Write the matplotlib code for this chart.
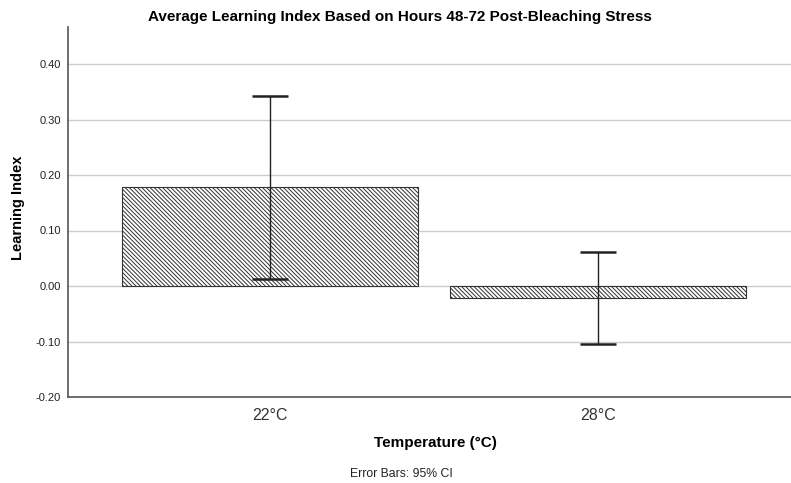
import matplotlib
matplotlib.use("Agg")
import matplotlib.pyplot as plt
import numpy as np

categories = ["22°C", "28°C"]
means = [0.178, -0.0216]
ci_low = [0.0126, -0.1045]
ci_high = [0.342, 0.061]
yticks = [-0.20, -0.10, 0.00, 0.10, 0.20, 0.30, 0.40]

plt.rcParams['font.family'] = ['Liberation Sans', 'DejaVu Sans']
plt.rcParams['hatch.linewidth'] = 0.7
plt.rcParams['hatch.color'] = '#555555'

fig = plt.figure(figsize=(7.91, 4.83), dpi=100)
ax = fig.add_axes([68/791, 86/483, 1 - 68/791, (397-27)/483])

x = np.arange(len(categories))
ax.set_axisbelow(True)
for t in yticks:
    ax.axhline(t, color='#cccccc', lw=1.0, zorder=0)
ax.bar(x, means, width=0.9, facecolor='white', edgecolor='#333333',
       hatch='\\' * 8, linewidth=0.8, zorder=2)
yerr = [np.array(means) - np.array(ci_low), np.array(ci_high) - np.array(means)]
ax.errorbar(x, means, yerr=yerr, fmt='none', ecolor='#222222', elinewidth=1.0,
            capsize=13, capthick=1.8, zorder=3)

ax.set_xlim(-(270-68)/328, (791-270)/328)
ax.set_ylim(-0.20, 0.40 + 37/555)
ax.set_yticks(yticks)
ax.set_yticklabels([f"{t:.2f}" for t in yticks], fontsize=8, color='#222222')
ax.set_xticks(x)
ax.set_xticklabels(categories, fontsize=11.5, color='#333333')
ax.tick_params(axis='both', length=0, pad=5)
ax.tick_params(axis='x', pad=8)
for s in ['top', 'right']:
    ax.spines[s].set_visible(False)
ax.spines['left'].set_color('#555555')
ax.spines['bottom'].set_color('#555555')
ax.spines['left'].set_linewidth(1.2)
ax.spines['bottom'].set_linewidth(1.2)

fig.text(18/791, 1 - 208/483, "Learning Index", rotation=90, ha='center', va='center',
         fontsize=10.5, fontweight='bold')
fig.text(400/791, 1 - 17/483, "Average Learning Index Based on Hours 48-72 Post-Bleaching Stress",
         ha='center', va='center', fontsize=11, fontweight='bold')
fig.text(435/791, 1 - 443/483, "Temperature (°C)", ha='center', va='center',
         fontsize=11, fontweight='bold')
fig.text(401/791, 1 - 474/483, "Error Bars: 95% CI", ha='center', va='center',
         fontsize=8.8, color='#222222')

fig.savefig("out.png", dpi=100)
